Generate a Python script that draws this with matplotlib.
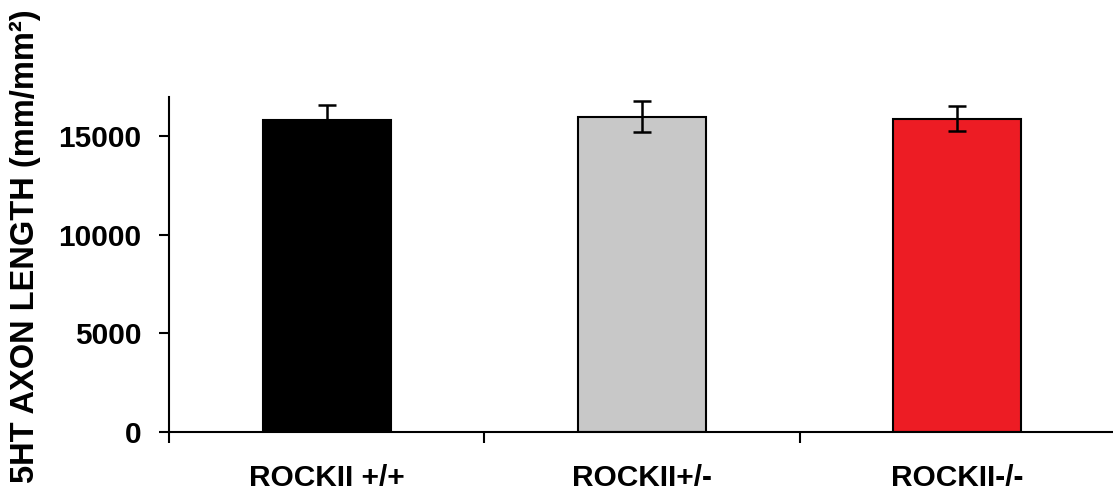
import matplotlib
matplotlib.use("Agg")
import matplotlib.pyplot as plt

# values
genotypes = ["ROCKII +/+", "ROCKII+/-", "ROCKII-/-"]
axon_length = [15850, 16010, 15900]
sem = [720, 770, 630]
bar_colors = ["#000000", "#C8C8C8", "#ED1C24"]

plt.rcParams["font.family"] = ["Liberation Sans", "DejaVu Sans"]
plt.rcParams["font.weight"] = "bold"

fig = plt.figure(figsize=(11.13, 4.96), dpi=100)
ax = fig.add_axes([169 / 1113, 64 / 496, (1115 - 169) / 1113, (432 - 97) / 496])

x = range(len(genotypes))
ax.bar(x, axon_length, width=0.405, color=bar_colors, edgecolor="black",
       linewidth=1.5, zorder=2)
ax.errorbar(x, axon_length, yerr=sem, fmt="none", ecolor="black",
            elinewidth=1.8, capsize=6.5, capthick=1.8, zorder=3)

ax.set_xlim(-0.5, 2.5)
ax.set_ylim(0, 17000)
ax.set_yticks([0, 5000, 10000, 15000])
ax.set_xticks([-0.5, 0.5, 1.5, 2.5])
ax.set_xticklabels([])
ax.set_xticks(list(x), minor=True)
ax.set_xticklabels(genotypes, minor=True, fontsize=21.5, fontweight="bold")
ax.tick_params(axis="x", which="minor", length=0, pad=23)
ax.tick_params(axis="x", which="major", length=8, width=1.5, direction="out")
ax.tick_params(axis="y", length=7, width=1.5, direction="out", pad=13,
               labelsize=21.5)
for lab in ax.get_yticklabels():
    lab.set_fontweight("bold")

for side in ["top", "right"]:
    ax.spines[side].set_visible(False)
for side in ["left", "bottom"]:
    ax.spines[side].set_linewidth(1.5)

fig.text(25 / 1113, 1 - 246 / 496, "5HT AXON LENGTH (mm/mm²)", rotation=90,
         ha="center", va="center", fontsize=23.5, fontweight="bold")

fig.savefig("out.png", dpi=100)
